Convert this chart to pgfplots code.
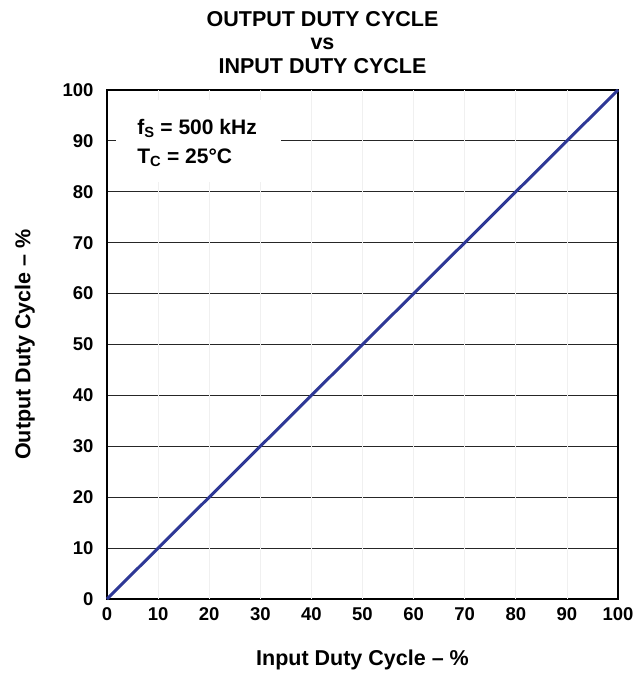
\documentclass[border=0pt]{standalone}
\usepackage{pgfplots}
\pgfplotsset{compat=1.18}
\usepackage{fontspec}
\setmainfont{Liberation Sans}
\definecolor{lineblue}{RGB}{46,56,150}
\begin{document}
\begin{tikzpicture}
\begin{axis}[
  at={(0pt,0pt)}, anchor=south west,
  scale only axis, width=511pt, height=509pt,
  xmin=0, xmax=100, ymin=0, ymax=100,
  xtick={0,10,...,100}, ytick={0,10,...,100},
  ymajorgrids, 
  major grid style={black!85, line width=1.2pt},
  axis line style={line width=2pt},
  tick style={draw=none},
  /pgf/number format/assume math mode=true,
  tick label style={font=\fontsize{18.5}{21}\selectfont\bfseries},
  xticklabel style={yshift=-5.5pt},
  yticklabel style={xshift=-10pt},
  xlabel={Input Duty Cycle -- \%},
  ylabel={Output Duty Cycle -- \%},
  label style={font=\fontsize{21.5}{24}\selectfont\bfseries},
  xlabel style={yshift=-22pt},
  ylabel style={yshift=21pt},
  title={OUTPUT DUTY CYCLE\\vs\\INPUT DUTY CYCLE},
  title style={font=\fontsize{21.5}{23.5}\selectfont\bfseries, align=center, yshift=7pt, xshift=-40pt},
  clip=false,
]
\pgfplotsinvokeforeach{10,20,...,90}{
  \draw[gray!12, line width=0.8pt] (axis cs:#1,0) -- (axis cs:#1,100);
}
\fill[white] (axis cs:1.8,82) rectangle (axis cs:34,98);
\node[anchor=base west, inner sep=0pt, font=\fontsize{21}{24}\selectfont\bfseries] at (axis cs:5.9,91.2) {f\textsubscript{S} = 500 kHz};
\node[anchor=base west, inner sep=0pt, font=\fontsize{21}{24}\selectfont\bfseries] at (axis cs:5.9,85.5) {T\textsubscript{C} = 25°C};
\addplot[lineblue, line width=3pt] coordinates {(0,0) (10,10) (20,20) (30,30) (40,40) (50,50) (60,60) (70,70) (80,80) (90,90) (100,100)};
\end{axis}
\pgfresetboundingbox
\path[use as bounding box] (-107pt,-74pt) rectangle (532pt,599pt);
\end{tikzpicture}
\end{document}
